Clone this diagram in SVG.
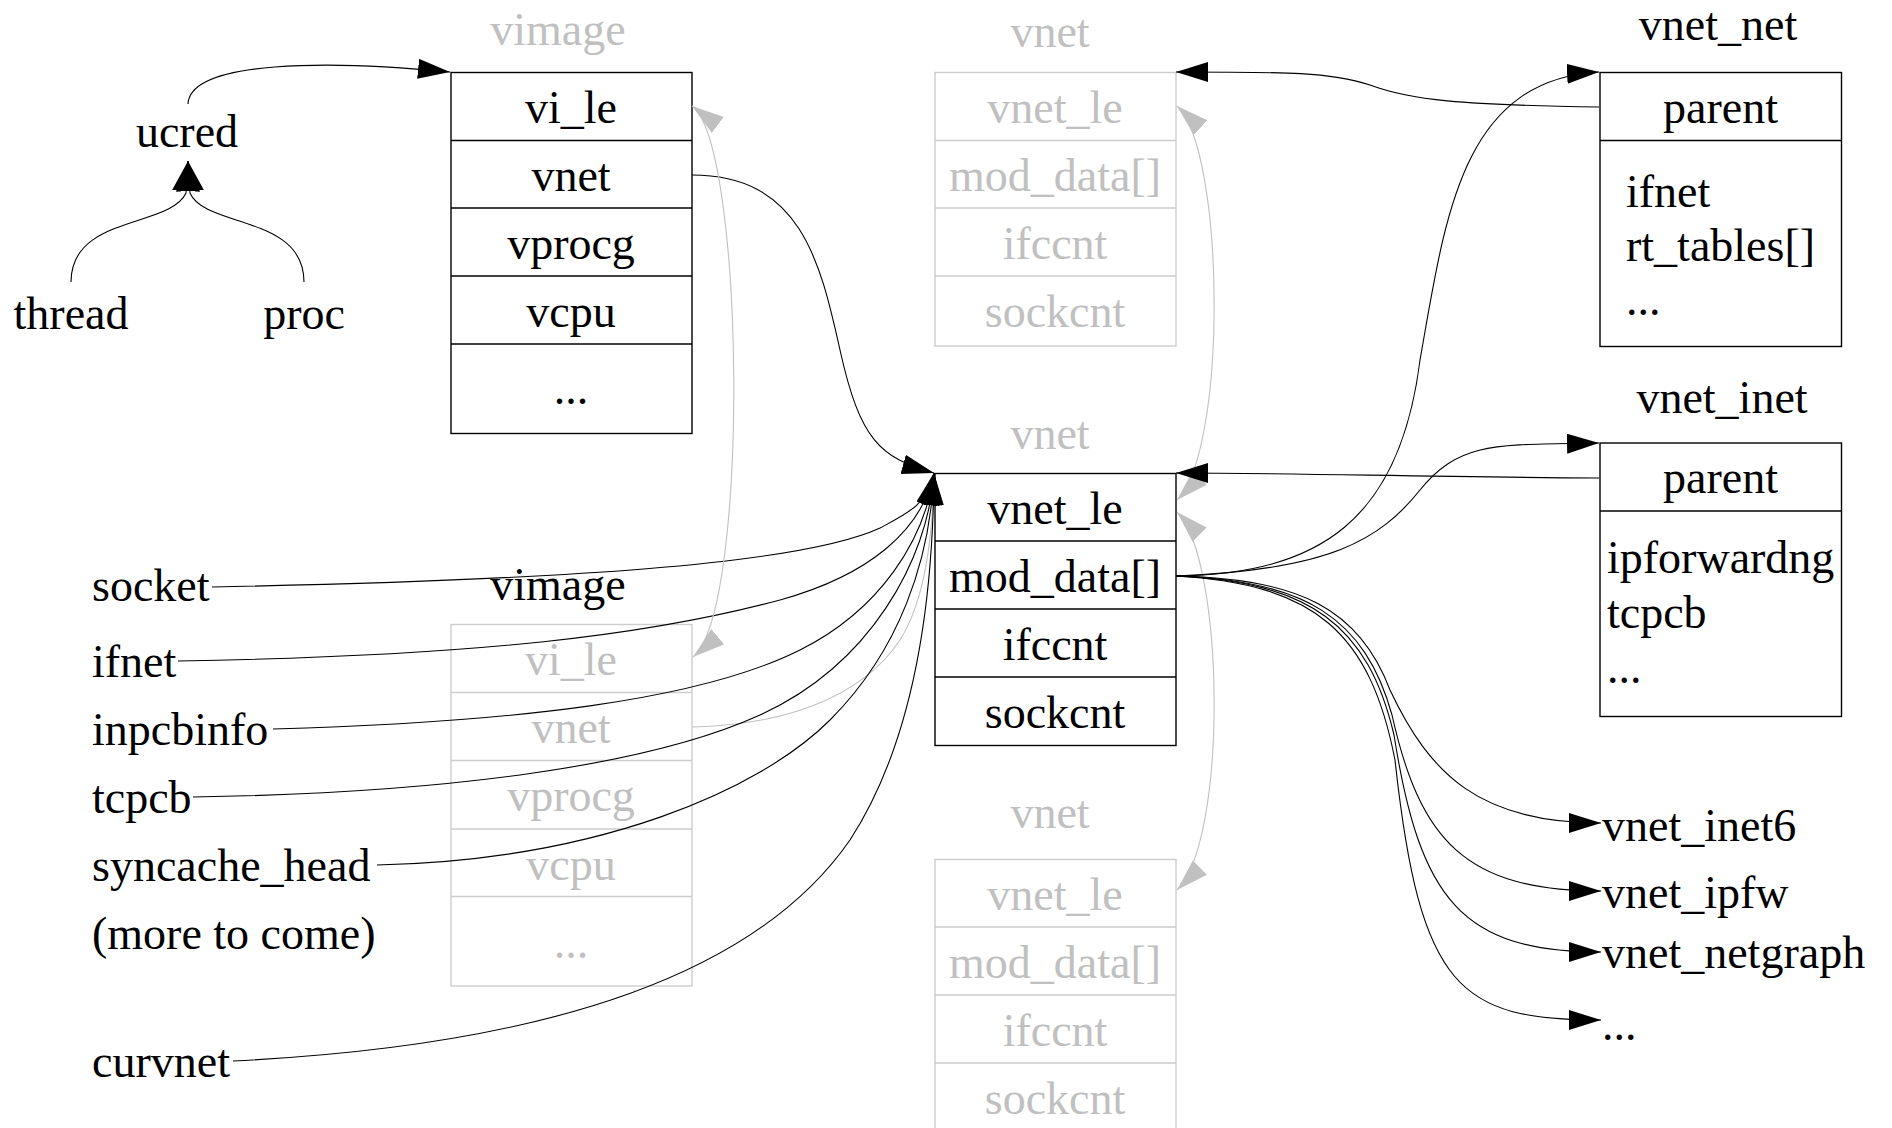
<svg xmlns="http://www.w3.org/2000/svg" width="1892" height="1128" viewBox="0 0 1892 1128">
<style>
text{font-family:"Liberation Serif","Times New Roman",serif;font-size:46px;fill:#000}
.g{fill:#c0c0c0}
.c{text-anchor:middle}
.box{fill:none;stroke:#000;stroke-width:1.4}
.gbox{fill:none;stroke:#cdcdcd;stroke-width:1.4}
.ln{fill:none;stroke:#000;stroke-width:1.1}
.gl{fill:none;stroke:#c0c0c0;stroke-width:1.1}
.sep{stroke:#000;stroke-width:1.4}
.gsep{stroke:#cdcdcd;stroke-width:1.4}
</style>
<defs>
<marker id="ah" markerUnits="userSpaceOnUse" markerWidth="34" markerHeight="22" refX="32" refY="10" orient="auto"><path d="M0,0 L32,10 L0,20 z" fill="#000"/></marker>
<marker id="ahw" markerUnits="userSpaceOnUse" markerWidth="34" markerHeight="30" refX="30" refY="14" orient="auto"><path d="M0,0 L30,14 L0,28 z" fill="#000"/></marker>
<marker id="gah" markerUnits="userSpaceOnUse" markerWidth="34" markerHeight="22" refX="32" refY="10" orient="auto-start-reverse"><path d="M0,0 L32,10 L0,20 z" fill="#c0c0c0"/></marker>
</defs>
<rect width="1892" height="1128" fill="#fff"/>

<g id="ucred"><text class="c" x="187" y="147">ucred</text></g>
<g id="thread"><text class="c" x="71" y="329">thread</text></g>
<g id="proc"><text class="c" x="304" y="329">proc</text></g>

<g id="vimage-top">
<text class="c g" x="558" y="45">vimage</text>
<rect class="box" x="451" y="72.5" width="241" height="361"/>
<line class="sep" x1="451" y1="140.5" x2="692" y2="140.5"/>
<line class="sep" x1="451" y1="208" x2="692" y2="208"/>
<line class="sep" x1="451" y1="276" x2="692" y2="276"/>
<line class="sep" x1="451" y1="344" x2="692" y2="344"/>
<text class="c" x="571" y="123">vi_le</text>
<text class="c" x="571" y="191">vnet</text>
<text class="c" x="571" y="259">vprocg</text>
<text class="c" x="571" y="327">vcpu</text>
<text class="c" x="571" y="404">...</text>
</g>

<g id="vnet-top">
<text class="c g" x="1050" y="47">vnet</text>
<rect class="gbox" x="935" y="72.5" width="241" height="273.5"/>
<line class="gsep" x1="935" y1="140.5" x2="1176" y2="140.5"/>
<line class="gsep" x1="935" y1="208" x2="1176" y2="208"/>
<line class="gsep" x1="935" y1="276" x2="1176" y2="276"/>
<text class="c g" x="1055" y="123">vnet_le</text>
<text class="c g" x="1055" y="191">mod_data[]</text>
<text class="c g" x="1055" y="259">ifccnt</text>
<text class="c g" x="1055" y="327">sockcnt</text>
</g>

<g id="vnet-center">
<text class="c g" x="1050" y="449">vnet</text>
<rect class="box" x="935" y="473.5" width="241" height="272"/>
<line class="sep" x1="935" y1="541" x2="1176" y2="541"/>
<line class="sep" x1="935" y1="609" x2="1176" y2="609"/>
<line class="sep" x1="935" y1="677" x2="1176" y2="677"/>
<text class="c" x="1055" y="524">vnet_le</text>
<text class="c" x="1055" y="592">mod_data[]</text>
<text class="c" x="1055" y="660">ifccnt</text>
<text class="c" x="1055" y="728">sockcnt</text>
</g>

<g id="vimage-bottom">
<text class="c" x="558" y="600">vimage</text>
<rect class="gbox" x="451" y="624.5" width="241" height="361.5"/>
<line class="gsep" x1="451" y1="692.5" x2="692" y2="692.5"/>
<line class="gsep" x1="451" y1="760.5" x2="692" y2="760.5"/>
<line class="gsep" x1="451" y1="829" x2="692" y2="829"/>
<line class="gsep" x1="451" y1="896.5" x2="692" y2="896.5"/>
<text class="c g" x="571" y="675">vi_le</text>
<text class="c g" x="571" y="743">vnet</text>
<text class="c g" x="571" y="811">vprocg</text>
<text class="c g" x="571" y="880">vcpu</text>
<text class="c g" x="571" y="958">...</text>
</g>

<g id="vnet-bottom">
<text class="c g" x="1050" y="828">vnet</text>
<rect class="gbox" x="935" y="859.5" width="241" height="300"/>
<line class="gsep" x1="935" y1="927" x2="1176" y2="927"/>
<line class="gsep" x1="935" y1="995" x2="1176" y2="995"/>
<line class="gsep" x1="935" y1="1063" x2="1176" y2="1063"/>
<text class="c g" x="1055" y="910">vnet_le</text>
<text class="c g" x="1055" y="978">mod_data[]</text>
<text class="c g" x="1055" y="1046">ifccnt</text>
<text class="c g" x="1055" y="1114">sockcnt</text>
</g>

<g id="vnet_net">
<text class="c" x="1718" y="40">vnet_net</text>
<rect class="box" x="1600" y="72.5" width="241.5" height="274"/>
<line class="sep" x1="1600" y1="140.5" x2="1841.5" y2="140.5"/>
<text class="c" x="1720.5" y="123">parent</text>
<text x="1626" y="207">ifnet</text>
<text x="1626" y="261">rt_tables[]</text>
<text x="1626" y="315">...</text>
</g>

<g id="vnet_inet">
<text class="c" x="1722" y="413">vnet_inet</text>
<rect class="box" x="1600" y="443" width="241.5" height="273.5"/>
<line class="sep" x1="1600" y1="511" x2="1841.5" y2="511"/>
<text class="c" x="1720.5" y="493">parent</text>
<text x="1607" y="573">ipforwardng</text>
<text x="1607" y="628">tcpcb</text>
<text x="1607" y="683">...</text>
</g>

<g id="socket"><text x="92" y="601">socket</text></g>
<g id="ifnet"><text x="92" y="677">ifnet</text></g>
<g id="inpcbinfo"><text x="92" y="745">inpcbinfo</text></g>
<g id="tcpcb"><text x="92" y="813">tcpcb</text></g>
<g id="syncache_head"><text x="92" y="881">syncache_head</text></g>
<g id="more"><text x="92" y="949">(more to come)</text></g>
<g id="curvnet"><text x="92" y="1077">curvnet</text></g>

<g id="vnet_inet6"><text x="1602" y="841">vnet_inet6</text></g>
<g id="vnet_ipfw"><text x="1602" y="908">vnet_ipfw</text></g>
<g id="vnet_netgraph"><text x="1602" y="968">vnet_netgraph</text></g>
<g id="vnet_more"><text x="1602" y="1040">...</text></g>

<g id="connectors">
<path class="ln" d="M188,104 C190,60 330,60 450,72" marker-end="url(#ah)"/>
<path class="ln" d="M71,282 C71,215 170,228 186,193 L188,161" marker-end="url(#ahw)"/>
<path class="ln" d="M304,282 C304,215 205,228 190,193 L188,161" marker-end="url(#ahw)"/>
<path class="ln" d="M692,175 C800,175 820,260 840,350 C860,440 880,458 934,473" marker-end="url(#ah)"/>
<path class="gl" d="M692,727 C780,725 860,700 900,640 C925,600 932,540 934,480"/>
<path class="ln" d="M212,587 C560,580 800,565 880,528 C910,512 926,505 934,473" marker-end="url(#ah)"/>
<path class="ln" d="M178,661 C480,656 650,635 780,600 C870,575 922,530 934,473" marker-end="url(#ah)"/>
<path class="ln" d="M273,729 C520,722 700,700 800,650 C880,610 925,540 934,473" marker-end="url(#ah)"/>
<path class="ln" d="M193,797 C450,793 650,765 760,715 C870,665 928,560 934,473" marker-end="url(#ah)"/>
<path class="ln" d="M377,865 C600,860 760,790 830,720 C900,650 930,560 934,473" marker-end="url(#ah)"/>
<path class="ln" d="M233,1061 C560,1045 760,970 850,840 C915,740 933,600 934,473" marker-end="url(#ah)"/>
<path class="gl" d="M692,106 C745,145 750,610 693,657" marker-start="url(#gah)" marker-end="url(#gah)"/>
<path class="gl" d="M1177,106 C1225,150 1228,450 1177,500" marker-start="url(#gah)" marker-end="url(#gah)"/>
<path class="gl" d="M1177,512 C1225,560 1228,840 1177,890" marker-start="url(#gah)" marker-end="url(#gah)"/>
<path class="ln" d="M1599,107 C1460,105 1410,100 1370,85 C1330,72 1290,72 1176,72" marker-end="url(#ah)"/>
<path class="ln" d="M1599,478 C1420,477 1300,473 1176,473" marker-end="url(#ah)"/>
<path class="ln" d="M1176,576 C1320,574 1400,520 1420,360 C1445,220 1460,80 1599,72" marker-end="url(#ah)"/>
<path class="ln" d="M1176,576 C1330,570 1380,540 1420,490 C1460,440 1500,445 1599,443" marker-end="url(#ah)"/>
<path class="ln" d="M1176,576 C1300,578 1360,610 1390,690 C1430,775 1480,823 1601,823" marker-end="url(#ah)"/>
<path class="ln" d="M1176,576 C1305,580 1365,618 1392,715 C1420,840 1465,891 1601,891" marker-end="url(#ah)"/>
<path class="ln" d="M1176,576 C1310,582 1368,625 1394,735 C1420,900 1462,952 1601,952" marker-end="url(#ah)"/>
<path class="ln" d="M1176,576 C1315,584 1370,632 1395,760 C1420,990 1460,1020 1601,1020" marker-end="url(#ah)"/>
</g>
</svg>
